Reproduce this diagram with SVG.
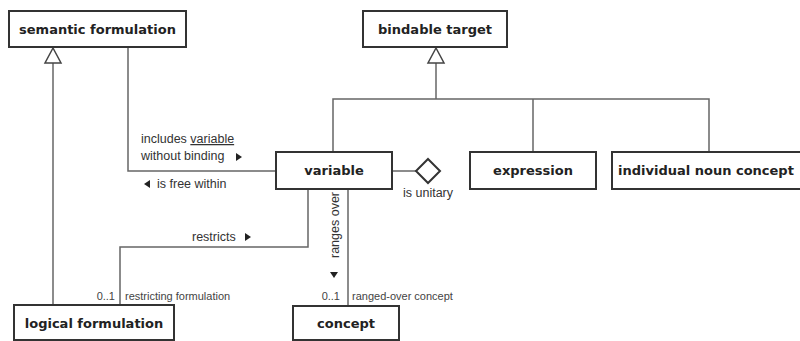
<svg xmlns="http://www.w3.org/2000/svg" width="800" height="341" viewBox="0 0 800 341">
<defs>
<style>
.box{fill:#fff;stroke:#333;stroke-width:2}
.nl{font-family:"DejaVu Sans",Verdana,sans-serif;font-weight:bold;font-size:13px;fill:#222}
.ln{fill:none;stroke:#666;stroke-width:1.5}
.vb{font-family:"Liberation Sans",Arial,sans-serif;font-size:12.5px;fill:#333}
.rl{font-family:"Liberation Sans",Arial,sans-serif;font-size:11px;fill:#444}
.tri{fill:#222}
.gen{fill:#fff;stroke:#444;stroke-width:1.5}
</style>
</defs>
<rect width="800" height="341" fill="#fff"/>
<g id="connectors">
<!-- generalization: logical formulation -> semantic formulation -->
<line class="ln" x1="53" y1="63" x2="53" y2="305"/>
<polygon class="gen" points="53,48 45,63 61,63"/>
<!-- bindable target hierarchy -->
<line class="ln" x1="436" y1="63" x2="436" y2="99"/>
<polygon class="gen" points="436,48 428,63 444,63"/>
<polyline class="ln" points="333,152 333,99 709,99 709,152"/>
<line class="ln" x1="533" y1="99" x2="533" y2="152"/>
<!-- includes variable without binding -->
<polyline class="ln" points="128,47 128,171 276,171"/>
<!-- is unitary -->
<line class="ln" x1="392" y1="171" x2="417" y2="171"/>
<polygon points="428,159 440,171 428,183 416,171" fill="#fff" stroke="#333" stroke-width="2"/>
<!-- restricts -->
<polyline class="ln" points="308,189 308,247 120,247 120,305"/>
<!-- ranges over -->
<line class="ln" x1="348" y1="189" x2="348" y2="306"/>
</g>
<g id="labels">
<text class="vb" x="141" y="143">includes <tspan text-decoration="underline">variable</tspan></text>
<text class="vb" x="141" y="160">without binding</text>
<polygon class="tri" points="236,153 236,161 242,157"/>
<polygon class="tri" points="150,180 150,188 144,184"/>
<text class="vb" x="157" y="188">is free within</text>
<text class="vb" x="403" y="197">is unitary</text>
<text class="vb" x="192" y="241">restricts</text>
<polygon class="tri" points="245,233 245,241 251,237"/>
<text class="vb" transform="translate(339,258) rotate(-90)">ranges over</text>
<polygon class="tri" points="330,272 338,272 334,278"/>
<text class="rl" x="115" y="300" text-anchor="end">0..1</text>
<text class="rl" x="125" y="300">restricting formulation</text>
<text class="rl" x="340" y="300" text-anchor="end">0..1</text>
<text class="rl" x="352" y="300">ranged-over concept</text>
</g>
<g id="semantic-formulation">
<rect class="box" x="9" y="11" width="177" height="36"/>
<text class="nl" x="97.5" y="34" text-anchor="middle">semantic formulation</text>
</g>
<g id="bindable-target">
<rect class="box" x="363" y="11" width="144" height="36"/>
<text class="nl" x="435" y="34" text-anchor="middle">bindable target</text>
</g>
<g id="variable">
<rect class="box" x="276" y="152" width="116" height="37"/>
<text class="nl" x="334" y="175" text-anchor="middle">variable</text>
</g>
<g id="expression">
<rect class="box" x="470" y="152" width="126" height="37"/>
<text class="nl" x="533" y="175" text-anchor="middle">expression</text>
</g>
<g id="individual-noun-concept">
<rect class="box" x="612" y="152" width="195" height="37"/>
<text class="nl" x="618" y="175">individual noun concept</text>
</g>
<g id="logical-formulation">
<rect class="box" x="14" y="305" width="160" height="35"/>
<text class="nl" x="94" y="328" text-anchor="middle">logical formulation</text>
</g>
<g id="concept">
<rect class="box" x="293" y="306" width="106" height="34"/>
<text class="nl" x="346" y="328" text-anchor="middle">concept</text>
</g>
</svg>
